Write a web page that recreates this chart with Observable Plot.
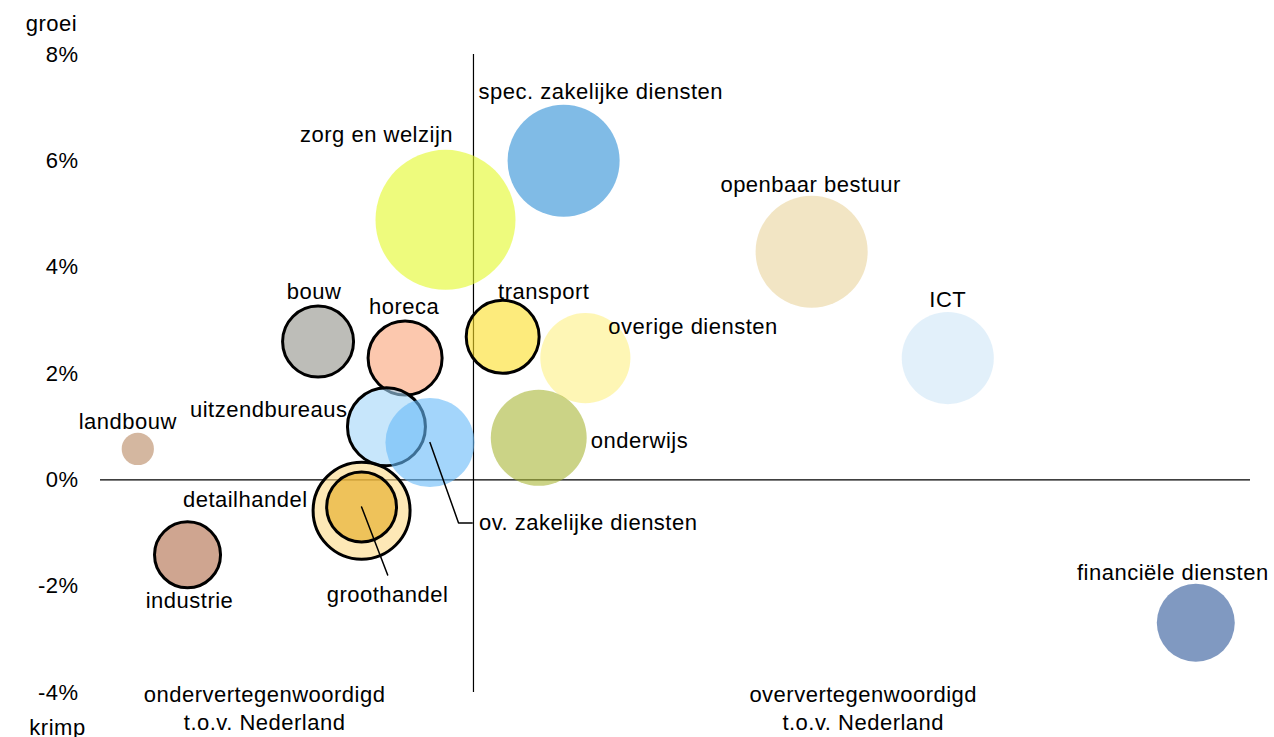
<!DOCTYPE html>
<html>
<head>
<meta charset="utf-8">
<script src="https://cdn.jsdelivr.net/npm/d3@7"></script>
<script src="https://cdn.jsdelivr.net/npm/@observablehq/plot@0.6"></script>
<style>
  html, body { margin: 0; padding: 0; background: white; }
  #chart svg { display: block; }
</style>
</head>
<body>
<div id="chart"></div>
<script>
// --- data ---
const sectors = ["landbouw", "industrie", "bouw", "horeca", "detailhandel", "groothandel",
  "uitzendbureaus", "ov. zakelijke diensten", "zorg en welzijn", "transport",
  "spec. zakelijke diensten", "overige diensten", "onderwijs", "openbaar bestuur", "ICT",
  "financiële diensten"];
// relative representation vs. the Netherlands (1 = equal)
const representation = [0.46, 0.54, 0.75, 0.89, 0.82, 0.82, 0.86, 0.93, 0.955, 1.047,
  1.145, 1.18, 1.105, 1.544, 1.763, 2.162];
// employment growth (%)
const growth = [0.58, -1.41, 2.6, 2.29, -0.58, -0.51, 1.0, 0.7, 4.89, 2.69,
  6.0, 2.29, 0.79, 4.29, 2.29, -2.69];
// size of sector (bubble area)
const size = [2.6, 10.9, 12.6, 13.7, 23.5, 12.2, 15.2, 19.8, 49, 13.3,
  31.4, 20.3, 23, 31.4, 21.2, 15.2];
const yTicks = [-4, -2, 0, 2, 4, 6, 8];

// --- styles ---
const colors = ["#b78761", "#af6946", "#919189", "#faa378", "#fcd985", "#e4a91d",
  "#a2d5f8", "#66b9f8", "#e3f826", "#fcde25", "#2b8ed5", "#fdf084", "#a8b635",
  "#e9d49d", "#cfe6f7", "#2b5598"];
const outlined = ["industrie", "bouw", "horeca", "detailhandel", "groothandel", "uitzendbureaus", "transport"];
// label offsets in px [dx, dy, anchor]
const labelPos = [[-10, -27, "middle"], [2, 46, "middle"], [-4, -50, "middle"], [-1, -51, "middle"],
  [-54, -11, "end"], [26, 88, "middle"], [-39, -17, "end"], [49, 80, "start"],
  [-69, -85, "middle"], [41, -45, "middle"], [-85, -69, "start"], [23, -31, "start"],
  [52, 3, "start"], [-1, -67, "middle"], [0, -58, "middle"], [-23, -50, "middle"]];
// leader lines (data units)
const leaderOvX = [0.93, 0.976, 0.998];
const leaderOvY = [0.7, -0.81, -0.81];
const leaderGrX = [0.82, 0.862];
const leaderGrY = [-0.51, -1.79];

const data = sectors.map((s, i) => ({
  sector: s, x: representation[i], y: growth[i], size: size[i],
  fill: colors[i], stroke: outlined.includes(s) ? "black" : "none"
}));

const leaders = [
  leaderOvX.map((x, i) => ({x, y: leaderOvY[i], g: "ov"})),
  leaderGrX.map((x, i) => ({x, y: leaderGrY[i], g: "gr"}))
].flat();

const labelMarks = data.map((d, i) => Plot.text([d], {
  x: "x", y: "y", text: "sector",
  dx: labelPos[i][0], dy: labelPos[i][1], textAnchor: labelPos[i][2],
  fill: "black"
}));

const chart = Plot.plot({
  width: 1274,
  height: 737,
  marginTop: 54,
  marginBottom: 45,
  marginLeft: 100,
  marginRight: 24,
  style: {fontFamily: "'Liberation Sans', Arial, sans-serif", fontSize: "22px", letterSpacing: "0.5px", background: "white", overflow: "visible"},
  x: {domain: [0.4, 2.25], axis: null},
  y: {domain: [-4, 8], axis: null},
  r: {type: "sqrt", domain: [0, 49], range: [0, 70]},
  color: {type: "identity"},
  marks: [
    Plot.axisY({ticks: yTicks, tickSize: 0, tickPadding: 22, tickFormat: d => d + "%", fill: "black", label: null}),
    Plot.ruleY([0], {stroke: "black", strokeWidth: 1.2}),
    Plot.ruleX([1], {stroke: "black", strokeWidth: 1.2}),
    Plot.dot(data, {x: "x", y: "y", r: "size", fill: "fill", stroke: "stroke",
      fillOpacity: 0.6, strokeWidth: 3, sort: null}),
    Plot.line(leaders, {x: "x", y: "y", z: "g", stroke: "black", strokeWidth: 1.5}),
    ...labelMarks,
    Plot.text(["groei"], {frameAnchor: "top-left", dx: -49, dy: -39, textAnchor: "middle", fill: "black"}),
    Plot.text(["krimp"], {frameAnchor: "bottom-left", dx: -43, dy: 42, textAnchor: "middle", fill: "black"}),
    Plot.text(["ondervertegenwoordigd\nt.o.v. Nederland"], {x: 0.664, frameAnchor: "bottom", dy: 37, lineHeight: 1.27, textAnchor: "middle", fill: "black"}),
    Plot.text(["oververtegenwoordigd\nt.o.v. Nederland"], {x: 1.627, frameAnchor: "bottom", dy: 37, lineHeight: 1.27, textAnchor: "middle", fill: "black"})
  ]
});
document.getElementById("chart").appendChild(chart);
</script>
</body>
</html>
